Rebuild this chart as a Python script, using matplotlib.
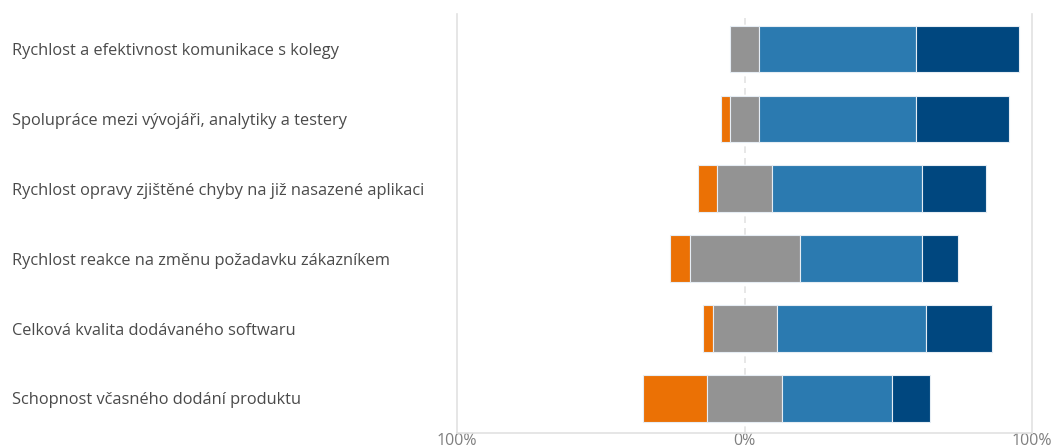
import numpy as np
import matplotlib.pyplot as plt

# otázky a podíly odpovědí v % (nesouhlas, neutrální, souhlas, rozhodně souhlas)
otazky = [
    'Rychlost a efektivnost komunikace s kolegy',
    'Spolupráce mezi vývojáři, analytiky a testery',
    'Rychlost opravy zjištěné chyby na již nasazené aplikaci',
    'Rychlost reakce na změnu požadavku zákazníkem',
    'Celková kvalita dodávaného softwaru',
    'Schopnost včasného dodání produktu',
]
nesouhlas = [0.0, 2.9, 6.8, 6.7, 3.5, 22.4]
neutralni = [10.3, 10.3, 19.0, 38.2, 22.2, 26.2]
souhlas = [54.5, 54.5, 52.0, 42.4, 52.0, 38.2]
rozhodne = [35.8, 32.2, 22.3, 12.6, 22.8, 13.1]

barvy = ['#EB7105', '#939393', '#2B7AB0', '#00477F']
okraj = '#e6edf4'

nesouhlas = np.array(nesouhlas)
neutralni = np.array(neutralni)
souhlas = np.array(souhlas)
rozhodne = np.array(rozhodne)
y = np.arange(len(otazky))
h = 0.666

fig = plt.figure(figsize=(10.62, 4.48), dpi=100)
ax = fig.add_axes([0.4303, 0.0328, 0.972 - 0.4303, 0.96875 - 0.0328])

# neutrální odpovědi jsou rozdělené napůl kolem nuly
zac = -neutralni / 2
lw_nes = [0.8 if v > 0 else 0 for v in nesouhlas]
ax.barh(y, nesouhlas, left=zac - nesouhlas, height=h, color=barvy[0], edgecolor=okraj, linewidth=lw_nes, zorder=3)
ax.barh(y, neutralni, left=zac, height=h, color=barvy[1], edgecolor=okraj, linewidth=0.8, zorder=3)
ax.barh(y, souhlas, left=neutralni / 2, height=h, color=barvy[2], edgecolor=okraj, linewidth=0.8, zorder=3)
ax.barh(y, rozhodne, left=neutralni / 2 + souhlas, height=h, color=barvy[3], edgecolor=okraj, linewidth=0.8, zorder=3)

ax.axvline(0, color='#e3e3e3', linewidth=1.2, linestyle=(0, (4, 3)), zorder=1)

ax.set_xlim(-100, 100)
ax.set_ylim(len(otazky) - 0.5, -0.5)
ax.set_xticks([-100, 0, 100])
ax.set_xticklabels(['100%', '0%', '100%'], fontsize=11.5, color='#7f7f7f', family='Open Sans')
ax.tick_params(axis='x', length=0, pad=0)
ax.set_yticks([])

for s in ['left', 'right', 'bottom']:
    ax.spines[s].set_color('#e1e1e1')
    ax.spines[s].set_linewidth(1.2)
ax.spines['top'].set_visible(False)

# popisky otázek zarovnané k levému okraji obrázku
trans = plt.matplotlib.transforms.blended_transform_factory(fig.transFigure, ax.transData)
for i, o in enumerate(otazky):
    ax.text(12 / 1062, i + 0.03, o, transform=trans, ha='left', va='center',
            fontsize=11.8, color='#4a4a4a', family='Open Sans')

fig.savefig('out.png', dpi=100)
